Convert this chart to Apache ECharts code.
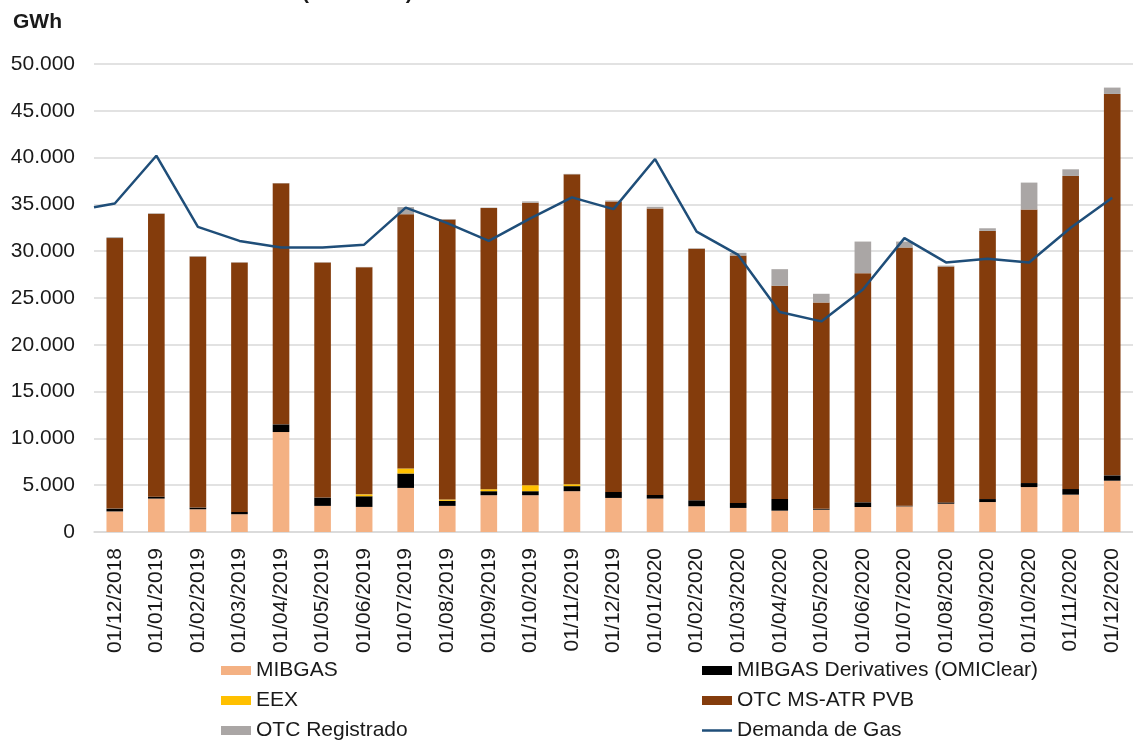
<!DOCTYPE html>
<html>
<head>
<meta charset="utf-8">
<script src="https://cdn.jsdelivr.net/npm/echarts@6/dist/echarts.min.js"></script>
<style>
  html, body { margin: 0; padding: 0; background: #fff; }
  #chart { width: 1133px; height: 740px; }
</style>
</head>
<body>
<div id="chart"></div>
<script>
//--------------------------------
// Data (GWh)
//--------------------------------
const meses = ['01/12/2018', '01/01/2019', '01/02/2019', '01/03/2019', '01/04/2019', '01/05/2019',
    '01/06/2019', '01/07/2019', '01/08/2019', '01/09/2019', '01/10/2019', '01/11/2019', '01/12/2019',
    '01/01/2020', '01/02/2020', '01/03/2020', '01/04/2020', '01/05/2020', '01/06/2020', '01/07/2020',
    '01/08/2020', '01/09/2020', '01/10/2020', '01/11/2020', '01/12/2020'];

const mibgas = [2200, 3570, 2430, 1900, 10680, 2790, 2680, 4710, 2790, 3930, 3930, 4360, 3640,
    3570, 2750, 2570, 2280, 2380, 2670, 2740, 3020, 3200, 4800, 3990, 5480];
const mibgasDeriv = [300, 200, 180, 250, 820, 890, 1140, 1540, 540, 430, 430, 540, 640,
    390, 640, 540, 1250, 100, 500, 70, 140, 320, 430, 600, 570];
const eex = [0, 0, 0, 0, 0, 0, 200, 540, 140, 210, 640, 200, 0,
    0, 0, 0, 0, 0, 0, 0, 0, 0, 0, 0, 0];
const otcPvb = [28900, 30230, 26820, 26640, 25750, 25110, 24270, 27170, 29920, 30040, 30180, 33110, 31040,
    30610, 26860, 26430, 22770, 22040, 24480, 27580, 25200, 28650, 29220, 33450, 40750];
const otcRegistrado = [100, 50, 50, 30, 30, 30, 30, 750, 50, 50, 140, 50, 100,
    180, 50, 290, 1780, 930, 3380, 640, 100, 280, 2880, 710, 680];
// demand line: value at the left edge of the plot, then one per month
const demandaInicio = 34700;
const demanda = [35100, 40200, 32600, 31100, 30400, 30400, 30700, 34650, 33000, 31100, 33500, 35750, 34500,
    39850, 32100, 29600, 23500, 22500, 25900, 31400, 28800, 29200, 28800, 32500, 35700];

//--------------------------------
// Chart
//--------------------------------
const FONT = '"Liberation Sans", Arial, sans-serif';
const TXT = '#1a1a1a';
const GRID_COLOR = '#d9d9d9';

const fmtMiles = (v) => String(v).replace(/\B(?=(\d{3})+(?!\d))/g, '.');

// line points on a hidden value axis aligned with the category bands
let demandaPts = [[-0.5, demandaInicio]];
demanda.forEach((v, i) => demandaPts.push([i, v]));

const barSerie = (name, data, color) => ({
    name: name,
    type: 'bar',
    stack: 'total',
    barWidth: '40%',
    itemStyle: { color: color },
    data: data
});

const legendBase = (left, top, h, names) => ({
    orient: 'vertical',
    left: left,
    top: top,
    height: 120,
    padding: 0,
    itemWidth: 30,
    itemHeight: h,
    itemGap: 9,
    icon: 'rect',
    selectedMode: false,
    textStyle: { fontSize: 21, color: TXT, fontFamily: FONT },
    data: names
});

const myChart = echarts.init(document.getElementById('chart'));
const options = {
    animation: false,
    textStyle: { fontFamily: FONT },
    graphic: [
        {
            // title of the original slide, cut off at the top edge
            type: 'text',
            left: 302,
            top: -17,
            style: { text: '(GWh/mes)', font: 'bold 21px ' + FONT, fill: TXT }
        },
        {
            type: 'text',
            left: 13,
            top: 12,
            style: { text: 'GWh', font: 'bold 21px ' + FONT, fill: TXT }
        }
    ],
    legend: [
        legendBase(221, 660, 9, ['MIBGAS', 'EEX', 'OTC Registrado']),
        legendBase(702, 660, 9, ['MIBGAS Derivatives (OMIClear)', 'OTC MS-ATR PVB']),
        legendBase(702, 720, 2.5, ['Demanda de Gas'])
    ],
    grid: {
        left: 94,
        top: 64,
        width: 1048,
        height: 468,
        containLabel: false
    },
    xAxis: [
        {
            type: 'category',
            data: meses,
            axisTick: { show: false },
            axisLine: { lineStyle: { color: GRID_COLOR, width: 1.5 } },
            axisLabel: {
                rotate: 90,
                interval: 0,
                margin: 16,
                fontSize: 21,
                color: TXT,
                fontFamily: FONT
            }
        },
        {
            type: 'value',
            min: -0.5,
            max: 24.5,
            show: false
        }
    ],
    yAxis: {
        type: 'value',
        min: 0,
        max: 50000,
        interval: 5000,
        axisLine: { show: false },
        axisTick: { show: false },
        splitLine: { lineStyle: { color: GRID_COLOR, width: 1.5 } },
        axisLabel: {
            margin: 19,
            fontSize: 21,
            color: TXT,
            fontFamily: FONT,
            formatter: fmtMiles
        }
    },
    series: [
        barSerie('MIBGAS', mibgas, '#f4b183'),
        barSerie('MIBGAS Derivatives (OMIClear)', mibgasDeriv, '#000000'),
        barSerie('EEX', eex, '#ffc000'),
        barSerie('OTC MS-ATR PVB', otcPvb, '#843c0c'),
        barSerie('OTC Registrado', otcRegistrado, '#aaa6a5'),
        {
            name: 'Demanda de Gas',
            type: 'line',
            xAxisIndex: 1,
            symbol: 'none',
            lineStyle: { color: '#1f4e79', width: 2.5 },
            itemStyle: { color: '#1f4e79' },
            data: demandaPts
        }
    ]
};
myChart.setOption(options);
</script>
</body>
</html>
